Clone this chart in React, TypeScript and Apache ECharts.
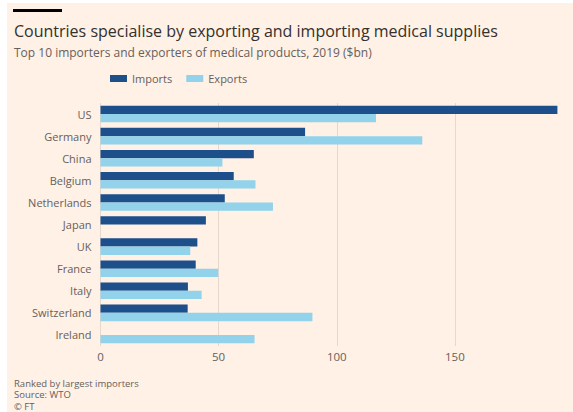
import React, { useEffect, useRef } from "react";
import * as echarts from "echarts";

const categories = ["US", "Germany", "China", "Belgium", "Netherlands", "Japan", "UK", "France", "Italy", "Switzerland", "Ireland"];
const importsValues = [193.4, 86.6, 64.9, 56.4, 52.6, 44.6, 41.0, 40.3, 37.0, 36.9, null];
const exportsValues = [116.6, 136.2, 51.6, 65.6, 73.0, null, 38.0, 49.8, 42.8, 89.7, 65.2];
const xTicks = { min: 0, max: 200, interval: 50 };

const TITLE = "Countries specialise by exporting and importing medical supplies";
const SUBTITLE = "Top 10 importers and exporters of medical products, 2019 ($bn)";
const FOOTER = ["Ranked by largest importers", "Source: WTO", "© FT"];

const FONT = "'Open Sans', sans-serif";
const GREY = "#66605c";

export default function App() {
  const ref = useRef<HTMLDivElement>(null);
  useEffect(() => {
    document.body.style.margin = "0";
    const chart = echarts.init(ref.current!, null, { renderer: "svg" });
    chart.setOption({
      animation: false,
      textStyle: { fontFamily: FONT },
      graphic: [
        { type: "rect", shape: { x: 13, y: 9, width: 49, height: 3 }, style: { fill: "#000" } },
        { type: "text", x: 14, y: 31, style: { text: TITLE, font: `16px ${FONT}`, fill: "#33302e", textVerticalAlign: "middle" } },
        { type: "text", x: 14, y: 52, style: { text: SUBTITLE, font: `12px ${FONT}`, fill: GREY, textVerticalAlign: "middle" } },
        {
          type: "text", x: 14, y: 377.5,
          style: { text: FOOTER.join("\n"), font: `9.5px ${FONT}`, lineHeight: 11.5, fill: GREY, textVerticalAlign: "top" },
        },
      ],
      legend: {
        left: 105, top: 68, itemWidth: 17, itemHeight: 7, itemGap: 14, icon: "rect",
        textStyle: { fontSize: 11, color: GREY, fontFamily: FONT },
        data: ["Imports", "Exports"],
      },
      grid: { left: 100.5, top: 103, width: 476.2, height: 243 },
      xAxis: {
        type: "value", min: xTicks.min, max: xTicks.max, interval: xTicks.interval,
        axisLine: { show: false }, axisTick: { show: false },
        axisLabel: { color: GREY, fontSize: 11.5, margin: 4, showMaxLabel: false, fontFamily: FONT },
        splitLine: { show: true, lineStyle: { color: "#e6d8cc", width: 1 } },
      },
      yAxis: {
        type: "category", data: categories, inverse: true,
        axisLine: { show: false }, axisTick: { show: false },
        axisLabel: { color: GREY, fontSize: 11, margin: 9, fontFamily: FONT },
      },
      series: [
        { name: "Imports", type: "bar", data: importsValues, itemStyle: { color: "#1d4f8b" }, barGap: "0%", barCategoryGap: "25%" },
        { name: "Exports", type: "bar", data: exportsValues, itemStyle: { color: "#92d2ea" }, barGap: "0%", barCategoryGap: "25%" },
      ],
    });
    return () => chart.dispose();
  }, []);
  return (
    <div style={{ position: "relative", width: 573, height: 412, background: "#fff", overflow: "hidden" }}>
      <div style={{ position: "absolute", left: 7, top: 3, right: 0, bottom: 0, background: "#fff1e5" }} />
      <div ref={ref} style={{ position: "absolute", left: 0, top: 0, width: 573, height: 412 }} />
    </div>
  );
}
